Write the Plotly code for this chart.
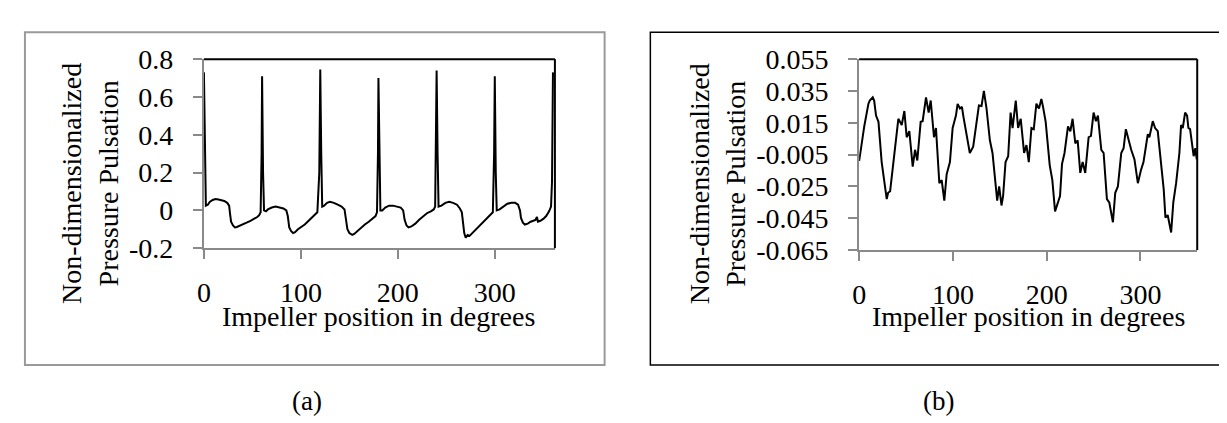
import plotly.graph_objects as go

# ---------------- data ----------------
deg_a = [0, 1, 2, 4, 6, 9, 12, 15, 18, 21, 24, 26, 27, 28, 30, 32, 34, 37, 40, 44, 48, 52, 55, 57, 58.5, 59.5,
         60, 61, 62, 64, 66, 70, 74, 78, 82, 85, 86.5, 88, 90, 92, 94, 97, 100, 104, 108, 112, 115, 117, 119,
         120, 121, 122, 124, 127, 130, 134, 138, 142, 145, 146.5, 148, 150, 153, 155, 158, 162, 166, 170, 174, 177, 178.5, 179.5,
         180, 181, 182, 184, 187, 191, 195, 199, 203, 205.5, 207, 209, 211, 214, 218, 222, 226, 230, 234, 237, 238.5, 239.5,
         240, 241, 242, 245, 249, 253, 257, 261, 264, 266, 267, 268.5, 270, 272, 274, 277, 281, 285, 289, 293, 296, 298, 299.3,
         300, 301, 302, 305, 309, 313, 317, 321, 324, 326, 327, 329, 331, 334, 337, 340, 342, 343.5, 344.5, 347, 350, 353, 356, 358, 359,
         360]
pul_a = [0.73, 0.30, 0.025, 0.03, 0.045, 0.055, 0.06, 0.058, 0.055, 0.05, 0.04, 0.025, -0.02, -0.06, -0.08, -0.09, -0.088, -0.08, -0.075, -0.065, -0.055, -0.045, -0.035, -0.025, -0.01, 0.3,
         0.71, 0.2, 0.0, -0.005, 0.005, 0.015, 0.02, 0.015, 0.01, 0.0, -0.03, -0.09, -0.11, -0.12, -0.115, -0.1, -0.09, -0.075, -0.055, -0.035, -0.02, -0.01, 0.2,
         0.745, 0.3, 0.02, 0.025, 0.04, 0.045, 0.04, 0.03, 0.02, 0.005, -0.04, -0.1, -0.12, -0.13, -0.125, -0.11, -0.09, -0.075, -0.06, -0.045, -0.03, -0.01, 0.3,
         0.70, 0.2, 0.0, 0.0, 0.015, 0.025, 0.025, 0.02, 0.015, 0.0, -0.05, -0.08, -0.09, -0.085, -0.07, -0.05, -0.03, -0.015, -0.005, 0.005, 0.02, 0.35,
         0.74, 0.3, 0.02, 0.025, 0.04, 0.045, 0.04, 0.03, 0.01, -0.01, -0.06, -0.12, -0.145, -0.13, -0.135, -0.12, -0.1, -0.075, -0.055, -0.035, -0.02, -0.01, 0.3,
         0.71, 0.2, 0.0, 0.005, 0.02, 0.035, 0.04, 0.04, 0.03, 0.0, -0.04, -0.065, -0.075, -0.07, -0.06, -0.055, -0.05, -0.035, -0.06, -0.055, -0.045, -0.03, -0.005, 0.02, 0.15,
         0.73]

deg_b = [0, 4.6, 5.5, 9.9, 11.3, 14.5, 16, 18, 20.6, 24, 27.7, 29.4, 30.9, 33, 35.8, 38.3, 41.8, 45.4, 48.2, 50.7, 53.5, 57.1, 59.6, 62,
         65.6, 67.7, 71.3, 74.1, 76.3, 79.8, 81.9, 85.5, 88, 90.8, 93.3, 96.8, 99.7, 103.2, 105, 107.5, 109.6, 111, 114.5, 118, 121.6,
         125.2, 127.7, 130.5, 133, 135.8, 139.4, 142.2, 144.7, 147.2, 149.3, 151.8, 153.5, 156.1, 158.9, 161.5, 163.6, 167, 169.5, 172.3,
         175.9, 178.4, 180.9, 183.7, 186.2, 189, 191.8, 194.3, 196.1, 198.9, 203.2, 206, 208.9, 211.7, 214.2, 216.3, 219, 222.7, 225.2,
         227.6, 230.5, 233, 235.8, 238.3, 241.1, 244.7, 247.2, 250, 252.5, 254.6, 258.2, 260.7, 264.2, 266.7, 270.6, 273.1, 275.9, 279.5,
         282, 284.4, 286.5, 290.1, 293.6, 297.2, 300.4, 303.2, 307.8, 309.5, 313.1, 315.6, 318.4, 322, 324.8, 326.6, 329, 332.7, 335,
         338, 341.5, 343.3, 345.1, 347.6, 349.7, 351.1, 352.9, 356.7, 358.5, 360]
pul_b = [-0.009, 0.0117, 0.013, 0.027, 0.029, 0.031, 0.029, 0.0195, 0.0156, -0.0097, -0.025, -0.033, -0.029, -0.028, -0.0136, -0.002, 0.0175, 0.0136, 0.0224, 0.0059, 0.0097, -0.0126, -0.002, -0.0087,
         0.0156, 0.016, 0.031, 0.0214, 0.029, 0.0059, 0.0117, -0.023, -0.021, -0.034, -0.0174, -0.0097, 0.0117, 0.0195, 0.0269, 0.024, 0.025, 0.0195, 0.0078, -0.004, 0.0,
         0.0136, 0.0259, 0.0255, 0.035, 0.024, 0.004, -0.004, -0.0194, -0.034, -0.025, -0.037, -0.031, -0.0097, -0.006, 0.0214, 0.0117, 0.029, 0.0117, 0.0175,
         -0.004, 0.001, -0.0097, 0.0117, 0.011, 0.027, 0.024, 0.030, 0.025, 0.0156, -0.0116, -0.021, -0.0407, -0.035, -0.031, -0.011, -0.004, 0.0127, 0.0097,
         0.0175, 0.002, 0.004, -0.0165, -0.0097, -0.0165, 0.0059, 0.0068, 0.0214, 0.016, 0.0195, -0.002, -0.004, -0.033, -0.035, -0.0475, -0.029, -0.025, -0.004,
         -0.001, 0.011, 0.0059, -0.002, -0.008, -0.023, -0.015, -0.0097, 0.0078, 0.0059, 0.016, 0.0117, 0.0097, -0.0136, -0.027, -0.0446, -0.043, -0.054, -0.035,
         -0.023, -0.004, 0.0136, 0.0117, 0.0214, 0.0195, 0.0117, 0.011, -0.006, -0.001, -0.008]

x_ticks = [0, 100, 200, 300]
x_ticktext = ["0", "100", "200", "300"]
ya_ticks = [-0.2, 0, 0.2, 0.4, 0.6, 0.8]
ya_ticktext = ["-0.2", "0", "0.2", "0.4", "0.6", "0.8"]
yb_ticks = [-0.065, -0.045, -0.025, -0.005, 0.015, 0.035, 0.055]
yb_ticktext = ["-0.065", "-0.045", "-0.025", "-0.005", "0.015", "0.035", "0.055"]

y_title = "Non-dimensionalized<br>Pressure Pulsation"
x_title = "Impeller position in degrees"
panel_labels = ["(a)", "(b)"]

# ---------------- layout helpers ----------------
W, H = 1227, 423
FONT = "Liberation Serif, Times New Roman, serif"
GRAY = "#898989"


def px(x):
    return x / W


def py(y):
    return 1 - y / H


fig = go.Figure()
fig.add_trace(go.Scatter(x=deg_a, y=pul_a, mode="lines", line=dict(color="black", width=2),
                         xaxis="x", yaxis="y", showlegend=False))
fig.add_trace(go.Scatter(x=deg_b, y=pul_b, mode="lines", line=dict(color="black", width=2),
                         xaxis="x2", yaxis="y2", showlegend=False))

axis_common = dict(showgrid=False, zeroline=False, showline=True, linecolor=GRAY, linewidth=2,
                   ticks="outside", ticklen=9, tickwidth=1.5, tickcolor=GRAY,
                   tickfont=dict(family=FONT, size=28, color="black"))

fig.update_layout(
    width=W, height=H, margin=dict(l=0, r=0, t=0, b=0),
    paper_bgcolor="white", plot_bgcolor="white",
    xaxis=dict(domain=[px(190), px(543)], range=[0, 362], anchor="y",
               tickvals=x_ticks, ticktext=x_ticktext, ticklabelstandoff=9, **axis_common),
    yaxis=dict(domain=[py(243), py(39)], range=[-0.2, 0.8], anchor="x",
               tickvals=ya_ticks, ticktext=ya_ticktext, ticklabelstandoff=14, **axis_common),
    xaxis2=dict(domain=[px(849), px(1189)], range=[0, 360.5], anchor="y2",
                tickvals=x_ticks, ticktext=x_ticktext, ticklabelstandoff=9, **axis_common),
    yaxis2=dict(domain=[py(245), py(39)], range=[-0.065, 0.055], anchor="x2",
                tickvals=yb_ticks, ticktext=yb_ticktext, ticklabelstandoff=14, **axis_common),
)

shapes = [
    # outer frames
    dict(type="rect", xref="paper", yref="paper", x0=px(10), x1=px(593), y0=py(369), y1=py(10),
         line=dict(color="#9a9a9a", width=2), layer="below"),
    dict(type="rect", xref="paper", yref="paper", x0=px(639), x1=px(1224), y0=py(369), y1=py(10),
         line=dict(color="black", width=1.5), layer="below"),
]
# plot area black border (top + right)
for xr, yr in (("x domain", "y domain"), ("x2 domain", "y2 domain")):
    shapes.append(dict(type="line", xref=xr, yref=yr, x0=0, x1=1, y0=1, y1=1,
                       line=dict(color="black", width=2)))
    shapes.append(dict(type="line", xref=xr, yref=yr, x0=1, x1=1, y0=0, y1=1,
                       line=dict(color="black", width=2)))
fig.update_layout(shapes=shapes)

ann = []
for xc in (75, 706):
    ann.append(dict(text=y_title, x=px(xc), y=py(173), xref="paper", yref="paper",
                    textangle=-90, showarrow=False, xanchor="center", yanchor="middle",
                    font=dict(family=FONT, size=28, color="black")))
for xc in (366, 1019):
    ann.append(dict(text=x_title, x=px(xc), y=py(317), xref="paper", yref="paper",
                    showarrow=False, xanchor="center", yanchor="middle",
                    font=dict(family=FONT, size=28, color="black")))
for xc, lab in zip((294, 929), panel_labels):
    ann.append(dict(text=lab, x=px(xc), y=py(408), xref="paper", yref="paper",
                    showarrow=False, xanchor="center", yanchor="middle",
                    font=dict(family=FONT, size=27, color="black")))
fig.update_layout(annotations=ann)

fig.write_html("out.html")
